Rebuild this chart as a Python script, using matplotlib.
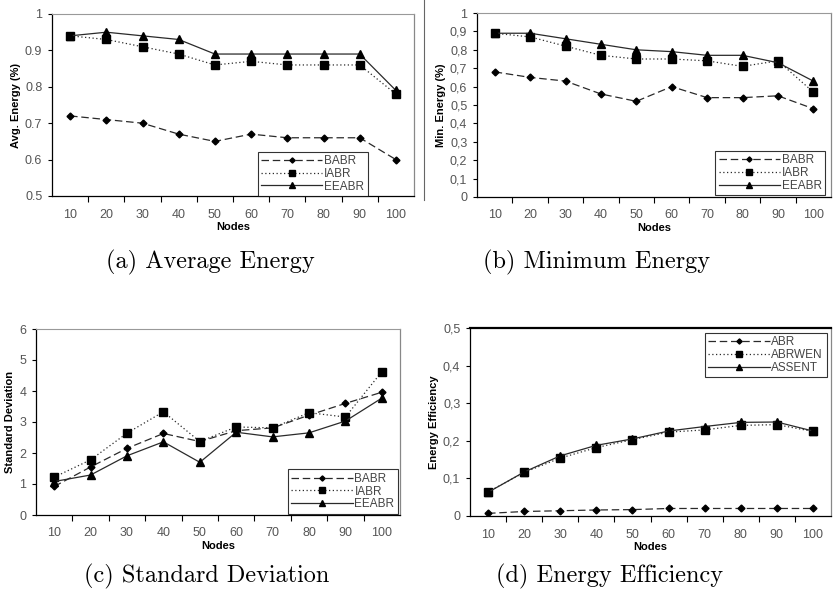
import matplotlib
matplotlib.use("Agg")
import matplotlib.pyplot as plt
from matplotlib.lines import Line2D

W, H = 833, 591

nodes = ["10", "20", "30", "40", "50", "60", "70", "80", "90", "100"]

# (a) average energy
avg_babr = [0.72, 0.71, 0.70, 0.67, 0.65, 0.67, 0.66, 0.66, 0.66, 0.60]
avg_iabr = [0.94, 0.93, 0.91, 0.89, 0.86, 0.87, 0.86, 0.86, 0.86, 0.78]
avg_eeabr = [0.94, 0.95, 0.94, 0.93, 0.89, 0.89, 0.89, 0.89, 0.89, 0.79]

# (b) minimum energy
min_babr = [0.68, 0.65, 0.63, 0.56, 0.52, 0.60, 0.54, 0.54, 0.55, 0.48]
min_iabr = [0.89, 0.87, 0.82, 0.77, 0.75, 0.75, 0.74, 0.71, 0.74, 0.57]
min_eeabr = [0.89, 0.89, 0.86, 0.83, 0.80, 0.79, 0.77, 0.77, 0.73, 0.63]

# (c) standard deviation
std_babr = [0.92, 1.55, 2.15, 2.63, 2.37, 2.72, 2.81, 3.22, 3.60, 3.96]
std_iabr = [1.22, 1.78, 2.64, 3.33, 2.37, 2.84, 2.81, 3.30, 3.16, 4.62]
std_eeabr = [1.08, 1.29, 1.91, 2.36, 1.70, 2.67, 2.52, 2.65, 3.03, 3.77]

# (d) energy efficiency
eff_abr = [0.007, 0.012, 0.014, 0.016, 0.017, 0.020, 0.020, 0.020, 0.020, 0.020]
eff_abrwen = [0.064, 0.116, 0.154, 0.182, 0.203, 0.223, 0.229, 0.241, 0.243, 0.225]
eff_assent = [0.063, 0.117, 0.160, 0.188, 0.205, 0.226, 0.238, 0.249, 0.250, 0.226]

names_a = ["BABR", "IABR", "EEABR"]
names_d = ["ABR", "ABRWEN", "ASSENT"]

ytick_a = ["0.5", "0.6", "0.7", "0.8", "0.9", "1"]
ytick_b = ["0", "0,1", "0,2", "0,3", "0,4", "0,5", "0,6", "0,7", "0,8", "0,9", "1"]
ytick_c = ["0", "1", "2", "3", "4", "5", "6"]
ytick_d = ["0", "0,1", "0,2", "0,3", "0,4", "0,5"]

styles = [
    dict(linestyle=(0, (6, 3)), marker="D", markersize=3.5),
    dict(linestyle=(0, (1, 2)), marker="s", markersize=5.5),
    dict(linestyle="-", marker="^", markersize=5.5),
]

fig = plt.figure(figsize=(W / 100, H / 100), dpi=100)
plt.rcParams["font.family"] = ["Liberation Sans", "DejaVu Sans"]


def rect(l, r, t, b):
    return [l / W, 1 - b / H, (r - l) / W, (b - t) / H]


def panel(box, series, names, yticks, labels, ylabel, legpos, top_black=False):
    ax = fig.add_axes(rect(*box))
    x = list(range(len(nodes)))
    for vals, name, st in zip(series, names, styles):
        ax.plot(x, vals, color="#2a2a2a", linewidth=0.9, markerfacecolor="black",
                markeredgecolor="black", label=name, **st)
    ax.set_xlim(-0.5, len(nodes) - 0.5)
    ax.set_ylim(yticks[0], yticks[-1])
    ax.set_xticks(x)
    ax.set_xticklabels(nodes)
    ax.set_xticks([i + 0.5 for i in x[:-1]], minor=True)
    ax.tick_params(axis="x", which="major", length=0, pad=9, labelsize=9,
                   labelcolor="#555555")
    ax.tick_params(axis="x", which="minor", length=4, width=0.8, direction="out")
    ax.set_yticks(yticks)
    ax.set_yticklabels(labels)
    ax.tick_params(axis="y", length=3, width=0.8, direction="out", pad=4,
                   labelsize=9, labelcolor="#555555")
    ax.set_xlabel("Nodes", fontsize=8, fontweight="bold", labelpad=1)
    ax.set_ylabel(ylabel, fontsize=8, fontweight="bold", labelpad=3)
    for s in ("left", "bottom"):
        ax.spines[s].set_linewidth(0.9)
        ax.spines[s].set_color("black")
    ax.spines["right"].set_color("#888888")
    ax.spines["right"].set_linewidth(0.9)
    if top_black:
        ax.spines["top"].set_color("black")
        ax.spines["top"].set_linewidth(1.6)
    else:
        ax.spines["top"].set_color("#999999")
        ax.spines["top"].set_linewidth(0.8)
    leg = ax.legend(loc="center", bbox_to_anchor=legpos, fontsize=8.5,
                    frameon=True, fancybox=False, edgecolor="black",
                    handlelength=5.2, handletextpad=0.15, labelspacing=0.05,
                    borderpad=0.3, borderaxespad=0, markerscale=0.75)
    leg.get_frame().set_linewidth(0.8)
    for t in leg.get_texts():
        t.set_color("#444444")
    return ax


panel((52, 414, 14, 196), [avg_babr, avg_iabr, avg_eeabr], names_a,
      [0.5, 0.6, 0.7, 0.8, 0.9, 1.0], ytick_a, "Avg. Energy (%)", (0.72, 0.121))
panel((477, 831, 13, 197), [min_babr, min_iabr, min_eeabr], names_a,
      [i / 10 for i in range(11)], ytick_b, "Min. Energy (%)", (0.828, 0.13))
panel((36, 400, 329, 515), [std_babr, std_iabr, std_eeabr], names_a,
      list(range(7)), ytick_c, "Standard Deviation", (0.843, 0.126))
panel((470, 831, 328, 516), [eff_abr, eff_abrwen, eff_assent], names_d,
      [i / 10 for i in range(6)], ytick_d, "Energy Efficiency", (0.819, 0.856),
      top_black=True)

# chart-area border on the left of panel (b)
fig.add_artist(Line2D([424 / W, 424 / W], [1, 1 - 200 / H], color="#666666",
                      linewidth=0.8, transform=fig.transFigure))

cap = dict(fontsize=17.5, family="cmr10", ha="center", va="center")
fig.text(210 / W, 1 - 262 / H, "(a) Average Energy", **cap)
fig.text(597 / W, 1 - 262 / H, "(b) Minimum Energy", **cap)
fig.text(207 / W, 1 - 576 / H, "(c) Standard Deviation", **cap)
fig.text(610 / W, 1 - 576 / H, "(d) Energy Efficiency", **cap)

fig.savefig("out.png", dpi=100)
